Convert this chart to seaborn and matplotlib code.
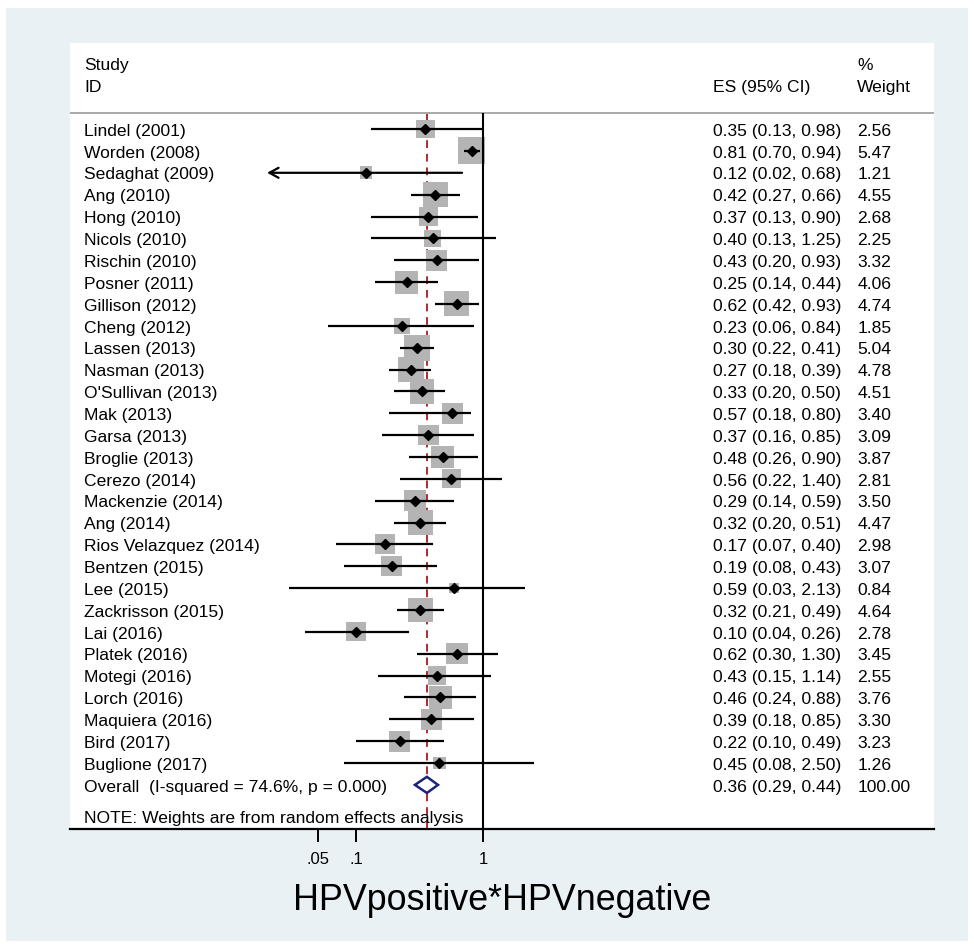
import numpy as np
import matplotlib
matplotlib.use("Agg")
import matplotlib.pyplot as plt
import matplotlib.patches as mpatches
import seaborn as sns

# study data (ES with 95% CI, % weight)
studies = [
    "Lindel (2001)", "Worden (2008)", "Sedaghat (2009)", "Ang (2010)",
    "Hong (2010)", "Nicols (2010)", "Rischin (2010)", "Posner (2011)",
    "Gillison (2012)", "Cheng (2012)", "Lassen (2013)", "Nasman (2013)",
    "O'Sullivan (2013)", "Mak (2013)", "Garsa (2013)", "Broglie (2013)",
    "Cerezo (2014)", "Mackenzie (2014)", "Ang (2014)",
    "Rios Velazquez (2014)", "Bentzen (2015)", "Lee (2015)",
    "Zackrisson (2015)", "Lai (2016)", "Platek (2016)", "Motegi (2016)",
    "Lorch (2016)", "Maquiera (2016)", "Bird (2017)", "Buglione (2017)",
]
es = [0.35, 0.81, 0.12, 0.42, 0.37, 0.40, 0.43, 0.25, 0.62, 0.23,
      0.30, 0.27, 0.33, 0.57, 0.37, 0.48, 0.56, 0.29, 0.32, 0.17,
      0.19, 0.59, 0.32, 0.10, 0.62, 0.43, 0.46, 0.39, 0.22, 0.45]
ci_lo = [0.13, 0.70, 0.02, 0.27, 0.13, 0.13, 0.20, 0.14, 0.42, 0.06,
         0.22, 0.18, 0.20, 0.18, 0.16, 0.26, 0.22, 0.14, 0.20, 0.07,
         0.08, 0.03, 0.21, 0.04, 0.30, 0.15, 0.24, 0.18, 0.10, 0.08]
ci_hi = [0.98, 0.94, 0.68, 0.66, 0.90, 1.25, 0.93, 0.44, 0.93, 0.84,
         0.41, 0.39, 0.50, 0.80, 0.85, 0.90, 1.40, 0.59, 0.51, 0.40,
         0.43, 2.13, 0.49, 0.26, 1.30, 1.14, 0.88, 0.85, 0.49, 2.50]
weight = [2.56, 5.47, 1.21, 4.55, 2.68, 2.25, 3.32, 4.06, 4.74, 1.85,
          5.04, 4.78, 4.51, 3.40, 3.09, 3.87, 2.81, 3.50, 4.47, 2.98,
          3.07, 0.84, 4.64, 2.78, 3.45, 2.55, 3.76, 3.30, 3.23, 1.26]

overall_es = 0.36
overall_lo = 0.29
overall_hi = 0.44
overall_label = "Overall  (I-squared = 74.6%, p = 0.000)"
note = "NOTE: Weights are from random effects analysis"
xticks = [0.05, 0.1, 1]
xtick_labels = [".05", ".1", "1"]
xlabel = "HPVpositive*HPVnegative"

sns.set_theme(style="white")
plt.rcParams["font.family"] = ["Liberation Sans", "DejaVu Sans"]
plt.rcParams["text.color"] = "black"
plt.rcParams["xtick.color"] = "black"
plt.rcParams["axes.labelcolor"] = "black"

fig = plt.figure(figsize=(9.74, 9.49), dpi=100)
fig.patch.set_facecolor("white")
fig.patches.append(mpatches.Rectangle((0.00616, 0.00843), 0.9877, 0.9831,
                                      transform=fig.transFigure,
                                      facecolor="#e9f1f4", edgecolor="none",
                                      zorder=-5))

ax = fig.add_axes([0.07187, 0.1264, 0.8871, 0.8282])
ax.set_zorder(1)
ax.set_facecolor("white")
ax.set_xscale("log")
ax.set_xlim(10 ** -3.247, 10 ** 3.540)
ax.set_ylim(32.02, -3.934)

rows = np.arange(len(studies))
n = len(studies)
header_y = -0.732
ybot = 32.02

# reference lines
ax.vlines(1, header_y, ybot, color="black", lw=1.5, zorder=3)
ax.vlines(overall_es, header_y, ybot, color="#b02a30", lw=1.4,
          linestyles=(0, (4, 3)), zorder=1)
ax.axhline(header_y, color="#a9a9a9", lw=1.4, zorder=1)

# weight squares
wmin, wmax = min(weight), max(weight)
sns.scatterplot(x=es, y=rows, size=weight, sizes=(68.6 * wmin, 68.6 * wmax),
                size_norm=(wmin, wmax), marker="s", color="#b4b4b4",
                linewidth=0, legend=False, ax=ax, zorder=2)

# confidence intervals
for i in range(n):
    if ci_lo[i] <= 0.02:
        ax.annotate("", xy=(ci_lo[i], rows[i]), xytext=(ci_hi[i], rows[i]),
                    arrowprops=dict(arrowstyle="->,head_length=0.55,head_width=0.3",
                                    lw=1.6, color="black",
                                    shrinkA=0, shrinkB=0), zorder=4)
    else:
        ax.plot([ci_lo[i], ci_hi[i]], [rows[i], rows[i]], color="black",
                lw=1.6, solid_capstyle="butt", zorder=4)
ax.plot(es, rows, linestyle="none", marker="D", markersize=5.2,
        color="black", zorder=5)

# overall diamond
oy = n
h = 0.37
ax.fill([overall_lo, overall_es, overall_hi, overall_es],
        [oy, oy - h, oy, oy + h], facecolor="white", edgecolor="#1b237a",
        lw=1.8, zorder=5)

# text columns
fs = 12.6
tr = ax.get_yaxis_transform()
x_name, x_es, x_w = 0.0162, 0.744, 0.911
ax.text(x_name, -2.93, "Study", transform=tr, fontsize=fs, va="center")
ax.text(x_name, -1.92, "ID", transform=tr, fontsize=fs, va="center")
ax.text(x_es, -1.92, "ES (95% CI)", transform=tr, fontsize=fs, va="center")
ax.text(x_w, -2.93, "%", transform=tr, fontsize=fs, va="center")
ax.text(x_w, -1.92, "Weight", transform=tr, fontsize=fs, va="center")

for i in range(n):
    y = rows[i] + 0.1
    ax.text(x_name, y, studies[i], transform=tr, fontsize=fs, va="center")
    ax.text(x_es, y, f"{es[i]:.2f} ({ci_lo[i]:.2f}, {ci_hi[i]:.2f})",
            transform=tr, fontsize=fs, va="center")
    ax.text(x_w, y, f"{weight[i]:.2f}", transform=tr, fontsize=fs, va="center")

ax.text(x_name, oy + 0.1, overall_label, transform=tr, fontsize=fs, va="center")
ax.text(x_es, oy + 0.1, f"{overall_es:.2f} ({overall_lo:.2f}, {overall_hi:.2f})",
        transform=tr, fontsize=fs, va="center")
ax.text(x_w, oy + 0.1, "100.00", transform=tr, fontsize=fs, va="center")
ax.text(x_name, 31.56, note, transform=tr, fontsize=fs, va="center")

# axes styling
for s in ["top", "left", "right"]:
    ax.spines[s].set_visible(False)
ax.spines["bottom"].set_color("black")
ax.spines["bottom"].set_linewidth(1.6)
ax.set_yticks([])
ax.set_xticks(xticks)
ax.set_xticklabels(xtick_labels, fontsize=12)
ax.xaxis.set_minor_locator(matplotlib.ticker.NullLocator())
ax.tick_params(axis="x", direction="out", length=9.5, width=1.4, pad=7,
               color="black", bottom=True)

fig.text(502 / 974, 1 - 910 / 949, xlabel, fontsize=25.8, ha="center",
         va="baseline")

fig.savefig("out.png", dpi=100, facecolor=fig.get_facecolor())
